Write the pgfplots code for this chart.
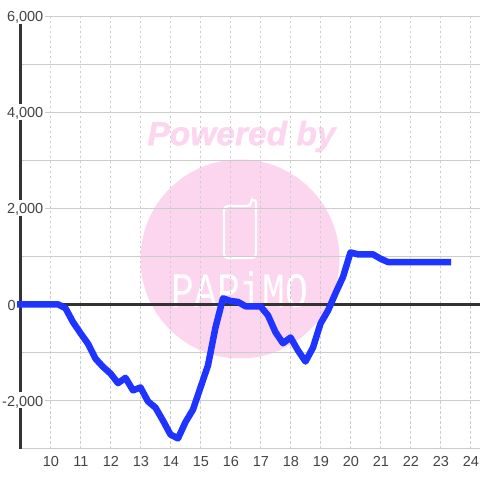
\documentclass[border=0pt]{standalone}
\usepackage{pgfplots}
\pgfplotsset{compat=1.18}
\usepackage{fontspec}
\setmainfont{Liberation Sans}
\newfontfamily\papimo{Liberation Mono}
\definecolor{wm}{HTML}{FBD6EE}
\definecolor{gridc}{HTML}{CCCCCC}
\definecolor{ax}{HTML}{333333}
\definecolor{txt}{HTML}{444444}
\definecolor{blue1}{HTML}{1F35FF}
\pgfplotstableread{
h v
9 0
9.25 0
9.5 0
9.75 0
10 0
10.25 0
10.5 -80
10.75 -370
11 -600
11.25 -820
11.5 -1130
11.75 -1300
12 -1440
12.25 -1640
12.5 -1530
12.75 -1790
13 -1730
13.25 -2020
13.5 -2150
13.75 -2420
14 -2710
14.25 -2790
14.5 -2450
14.75 -2190
15 -1730
15.25 -1270
15.5 -480
15.75 125
16 70
16.25 50
16.5 -40
16.75 -40
17 -40
17.25 -230
17.5 -580
17.75 -810
18 -690
18.25 -960
18.5 -1190
18.75 -900
19 -400
19.25 -130
19.5 230
19.75 570
20 1080
20.25 1040
20.5 1040
20.75 1040
21 950
21.25 880
21.5 880
21.75 880
22 880
22.25 880
22.5 880
22.75 880
23 880
23.25 880
}\datatable
\begin{document}
\begin{tikzpicture}[x=1pt,y=1pt]
\useasboundingbox (-20.5,-31.5) rectangle (459.5,448.5);
% watermark, picture coordinates relative to axis lower left
\fill[wm] (219.5,189.5) circle (99.5);
\node[wm,anchor=center,inner sep=0pt,font=\fontsize{33.5}{34}\selectfont\bfseries\itshape] at (221,312) {\addfontfeature{FakeBold=1.2}Powered by};
\draw[white,line width=2.2pt,rounded corners=4pt] (230.5,242.5) [rounded corners=2.4pt] -- (230.5,248.5) -- (235.5,248.5) [rounded corners=4pt] -- (235.5,190.5) -- (203.5,190.5) -- (203.5,242.5) -- cycle;
\node[white,anchor=center,inner sep=0pt] at (219.5,158.5) {\scalebox{1}[1.3]{\fontsize{38}{38}\selectfont\papimo PAPiMO}};
\begin{axis}[
  at={(0,0)},anchor=south west,
  scale only axis,width=459.5pt,height=432.5pt,
  xmin=9,xmax=24.3167,ymin=-3000,ymax=6000,
  axis line style={draw=none},
  tick style={draw=none},
  major tick length=0pt,
  clip=false,
  unbounded coords=jump,
  xtick={10,11,...,24},
  ytick={-2000,2000,4000,6000},
  minor ytick={-3000,-1000,1000,3000,5000},
  extra y ticks={0},
  extra y tick style={grid=none,yticklabel style={xshift=-27.5pt,fill=none}},
  xmajorgrids,ymajorgrids,yminorgrids,
  x grid style={gridc,line width=0.8pt,dash pattern=on 2.2pt off 2.8pt},
  y grid style={gridc,line width=1pt},
  scaled y ticks=false,
  /pgf/number format/assume math mode=true,
  /pgf/number format/1000 sep={,},
  tick label style={text=txt,font=\fontsize{14.5}{15}\selectfont},
  yticklabel style={anchor=east,xshift=24.5pt,yshift=-1.5pt,fill=white,inner ysep=0pt,inner xsep=1.5pt,minimum height=16pt},
  xticklabel style={anchor=north,xshift=0.5pt,yshift=-7pt,inner sep=1pt},
]
\addplot[ax,line width=3pt,forget plot] coordinates {(9,-3000)(9,-2167)(9,nan)(9,-1833)(9,1833)(9,nan)(9,2167)(9,3833)(9,nan)(9,4167)(9,5833)};
\addplot[ax,line width=3pt,forget plot] coordinates {(9,0)(24.3167,0)};
\addplot[blue1,line width=6.5pt,line cap=rect,line join=round] table[x=h,y=v] {\datatable};
\end{axis}
\end{tikzpicture}
\end{document}
